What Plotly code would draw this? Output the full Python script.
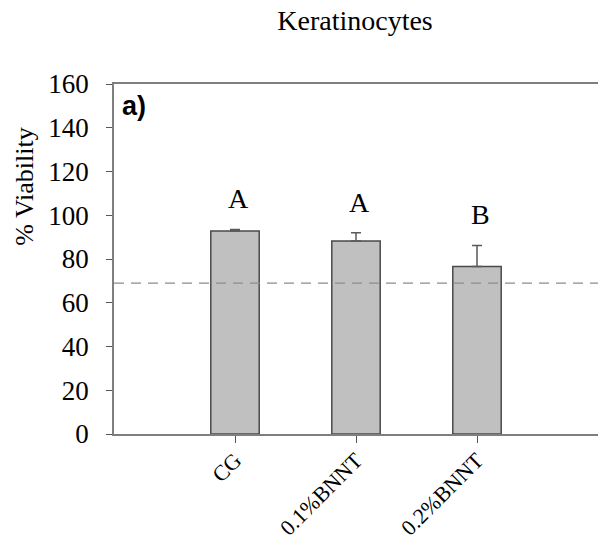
import plotly.graph_objects as go

categories = ["CG", "0.1%BNNT", "0.2%BNNT"]
viability = [92.8, 88.2, 76.6]
error_plus = [0.7, 3.8, 9.6]
letters = ["A", "A", "B"]
threshold = 69
y_ticks = [0, 20, 40, 60, 80, 100, 120, 140, 160]

SERIF = "Liberation Serif, Times New Roman, serif"
AXC = "#7f7f7f"

x_idx = list(range(len(categories)))

fig = go.Figure()
fig.add_trace(go.Bar(
    x=x_idx, y=viability, width=0.40,
    marker=dict(color="#c0c0c0", line=dict(color="#4a4a4a", width=1.5)),
    error_y=dict(type="data", symmetric=False, array=error_plus,
                 arrayminus=[0] * len(error_plus),
                 color="#5a5a5a", thickness=1.5, width=5),
    showlegend=False,
))

for i, (v, e, t) in enumerate(zip(viability, error_plus, letters)):
    fig.add_annotation(x=i + 0.03, y=v + e + 14, text=t, showarrow=False,
                       xanchor="center", yanchor="middle",
                       font=dict(family=SERIF, size=28, color="black"))

fig.add_shape(type="line", xref="paper", x0=0, x1=1, yref="y",
              y0=threshold, y1=threshold,
              line=dict(color="#8c8c8c", width=1.3, dash="10px,7px"))

fig.add_annotation(xref="paper", yref="paper", x=0.012, y=0.985,
                   text="<b>a)</b>", showarrow=False,
                   xanchor="left", yanchor="top",
                   font=dict(family="Liberation Sans, Arial, sans-serif",
                             size=27, color="black"))

fig.add_annotation(xref="paper", yref="paper", x=-0.184, y=0.709,
                   text="% Viability", textangle=-90, showarrow=False,
                   xanchor="center", yanchor="middle",
                   font=dict(family=SERIF, size=26, color="black"))

fig.update_layout(
    width=598, height=541,
    margin=dict(l=114, r=0, t=84, b=107),
    paper_bgcolor="white", plot_bgcolor="white",
    title=dict(text="Keratinocytes", x=355 / 598, xref="container",
               xanchor="center", y=1 - 20 / 541, yref="container",
               yanchor="middle",
               font=dict(family=SERIF, size=28, color="black")),
    xaxis=dict(range=[-1, 3], tickmode="array", tickvals=x_idx,
               ticktext=categories, tickangle=-45, automargin=False,
               ticks="outside", ticklen=7, tickcolor="#555555", tickwidth=1.2,
               showline=True, linecolor=AXC, linewidth=1.5, mirror=True,
               showgrid=False, zeroline=False, ticklabelstandoff=-4,
               tickfont=dict(family=SERIF, size=22, color="black")),
    yaxis=dict(range=[0, 160], tickmode="array", tickvals=y_ticks,
               automargin=False,
               ticks="outside", ticklen=6, tickcolor="#555555", tickwidth=1.2,
               showline=True, linecolor=AXC, linewidth=1.5,
               showgrid=False, zeroline=False, ticklabelstandoff=12,
               tickfont=dict(family=SERIF, size=27, color="black")),
)

fig.write_html("out.html", config={"displayModeBar": False},
               post_script="document.body.style.margin='0';"
                           "document.body.style.overflow='hidden';")
